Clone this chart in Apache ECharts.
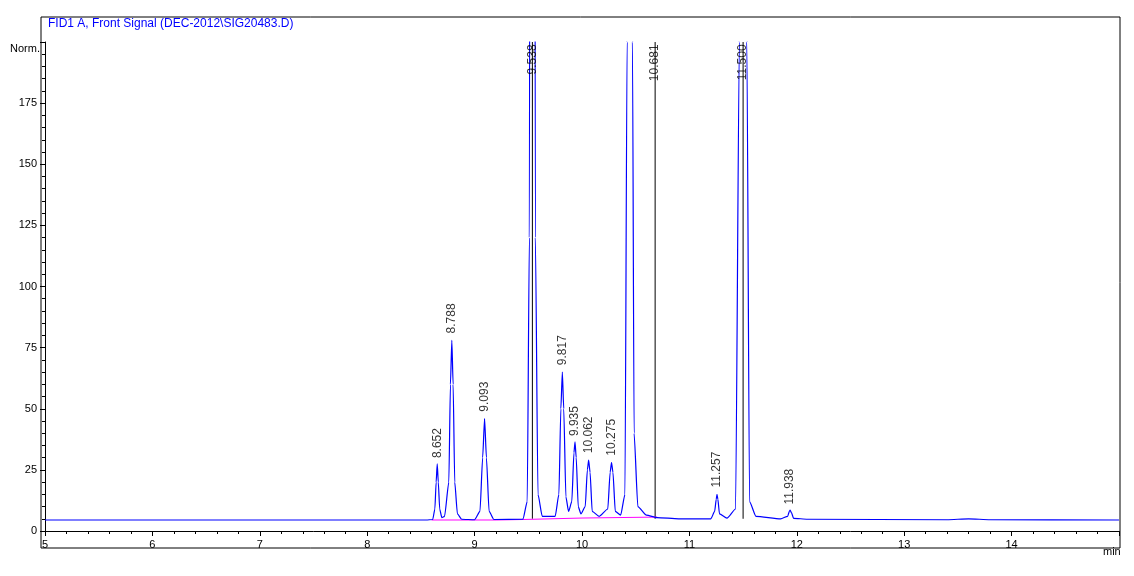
<!DOCTYPE html>
<html><head><meta charset="utf-8">
<script src="https://cdn.jsdelivr.net/npm/echarts@6/dist/echarts.min.js"></script>
<style>html,body{margin:0;background:#fff}#c{width:1134px;height:576px}</style>
</head><body><div id="c"></div>
<script>
const signal = [
[5,4.5],[7,4.5],[8.55,4.5],[8.61,4.7],[8.63,9],[8.642,20],[8.652,27.5],[8.662,20],[8.675,9],[8.695,5.5],[8.72,6],
[8.76,20],[8.775,60],[8.788,78],[8.80,60],[8.815,20],[8.84,7],[8.88,4.8],[9.0,4.6],
[9.05,8],[9.075,30],[9.093,46],[9.11,30],[9.135,8],[9.18,4.7],[9.45,4.8],
[9.49,12],[9.51,120],[9.52,500],[9.538,700],[9.556,500],[9.566,120],[9.59,15],[9.63,6],[9.75,6],
[9.785,15],[9.803,50],[9.817,65],[9.83,50],[9.85,14],[9.875,8],
[9.905,12],[9.925,32],[9.935,36.5],[9.946,30],[9.965,10],[9.99,7],
[10.03,10],[10.05,25],[10.062,29],[10.075,24],[10.095,8],[10.16,6],
[10.24,9],[10.262,24],[10.275,28],[10.288,24],[10.31,8],[10.36,6.5],
[10.40,15],[10.42,200],[10.45,700],[10.47,200],[10.485,40],[10.52,10],[10.6,6.5],[10.7,5.5],[10.9,5.0],
[11.2,5.0],[11.235,8],[11.25,13],[11.257,15],[11.265,13],[11.28,7],[11.35,5.3],
[11.43,9],[11.465,200],[11.49,700],[11.51,700],[11.535,200],[11.56,12],[11.62,6],[11.85,5.0],
[11.915,6],[11.93,8],[11.938,8.5],[11.95,7.5],[11.97,5.2],[12.1,4.8],[13.4,4.6],[13.6,5.0],[13.8,4.6],[15,4.5]
];
const baselinePink = [[8.6,4.5],[9.2,4.5],[9.45,4.7],[10.0,5.3],[10.7,5.7]];
const peakLabels = [[8.652,29],[8.788,80],[9.093,48],[9.817,67],[9.935,38],[10.062,31],[10.275,30],[11.257,17],[11.938,10]];
const topLabels = [9.538,10.681,11.500];
const labelText = {9.538:'9.538',10.681:'10.681',11.5:'11.500'};
const yTicks = [0,25,50,75,100,125,150,175];
const chart = echarts.init(document.getElementById('c'));
const blackLines = topLabels.map(x=>({type:'line',data:[[x,5],[x,200]],symbol:'none',lineStyle:{color:'#000',width:1},silent:true,z:1}));
chart.setOption({
 animation:false,
 grid:{left:45,right:15,top:42,bottom:45},
 graphic:[
  {type:'rect',shape:{x:41,y:17,width:1079,height:531},style:{fill:'none',stroke:'#000',lineWidth:1}},
  {type:'text',left:48,top:18,style:{text:'FID1 A, Front Signal (DEC-2012\\SIG20483.D)',fill:'#0000ff',font:'12px "Liberation Sans Narrow", "Liberation Sans", sans-serif'}},
  {type:'text',left:10,top:43,style:{text:'Norm.',fill:'#000',font:'11px "Liberation Sans", sans-serif'}},
  {type:'text',left:1103,top:546,style:{text:'min',fill:'#000',font:'11px "Liberation Sans", sans-serif'}}
 ],
 xAxis:{type:'value',min:5,max:15,interval:1,
  axisLine:{lineStyle:{color:'#000'}},axisTick:{length:5,lineStyle:{color:'#000'}},
  minorTick:{show:true,splitNumber:5,length:3,lineStyle:{color:'#000'}},
  axisLabel:{color:'#000',fontSize:11,formatter:v=>v>=15?'':String(v)},splitLine:{show:false}},
 yAxis:{type:'value',min:0,max:200,interval:25,
  axisLine:{show:true,lineStyle:{color:'#000'}},axisTick:{show:true,length:5,lineStyle:{color:'#000'}},
  minorTick:{show:true,splitNumber:5,length:3,lineStyle:{color:'#000'}},
  axisLabel:{color:'#000',fontSize:11,formatter:v=>yTicks.includes(v)?String(v):''},splitLine:{show:false}},
 series:[
  ...blackLines,
  {type:'line',data:baselinePink,symbol:'none',lineStyle:{color:'#ff00ff',width:1},z:2},
  {type:'line',data:signal,symbol:'none',smooth:0.2,smoothMonotone:'x',clip:true,lineStyle:{color:'#0000ff',width:1.2},z:3},
  {type:'scatter',data:peakLabels,symbolSize:0,z:5,
   label:{show:true,position:'top',rotate:90,align:'left',verticalAlign:'middle',distance:2,color:'#000',fontSize:12,
    formatter:p=>p.value[0].toFixed(3)}},
  {type:'scatter',data:topLabels.map(x=>[x,199]),symbolSize:0,z:5,
   label:{show:true,position:'bottom',rotate:90,align:'right',verticalAlign:'middle',distance:0,color:'#000',fontSize:12,
    formatter:p=>labelText[p.value[0]]}}
 ]
});
</script></body></html>
